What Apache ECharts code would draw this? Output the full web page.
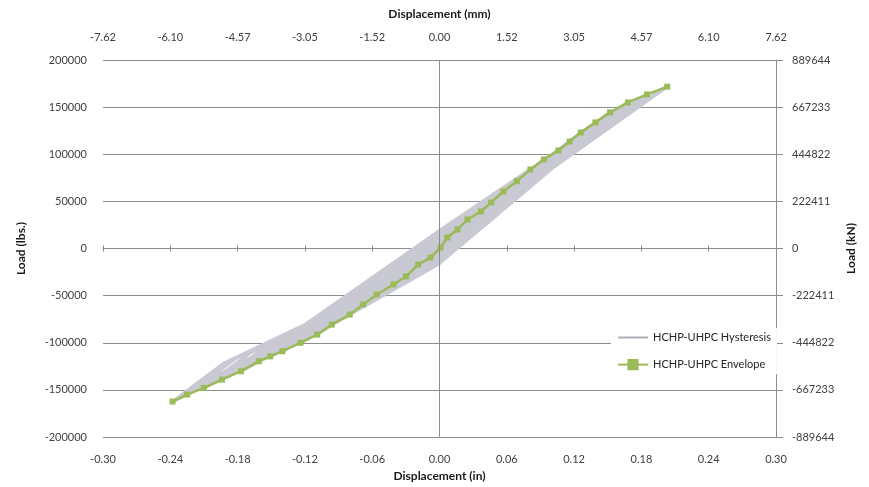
<!DOCTYPE html>
<html>
<head>
<meta charset="utf-8">
<script src="https://cdn.jsdelivr.net/npm/echarts@6/dist/echarts.min.js"></script>
<style>
html,body{margin:0;padding:0;background:#fff;}
#chart{width:869px;height:487px;}
</style>
</head>
<body>
<div id="chart"></div>
<script>
// ---- Data ----
// Envelope: peak displacement (in) and peak load (lbs.)
const envDisp = [-0.238,-0.225,-0.210,-0.194,-0.177,-0.161,-0.151,-0.140,-0.124,-0.109,-0.096,-0.080,-0.068,-0.056,-0.041,-0.030,-0.019,-0.008,
                 0.001,0.007,0.016,0.025,0.037,0.046,0.057,0.069,0.081,0.093,0.106,0.116,0.126,0.139,0.152,0.168,0.185,0.203];
const envLoad = [-162400,-155000,-147900,-139100,-130200,-119600,-114500,-109000,-100100,-91300,-80700,-70100,-59400,-48800,-38200,-29700,-17000,-9600,
                 1100,11700,20200,30800,39300,48800,60500,71400,83900,94500,104000,113500,123100,133800,144400,155000,163500,171700];

// Hysteresis path (in, lbs.) – cycle by cycle
const hystDisp = [
  0,-0.008,
  -0.004,0,0.0047,0.007,0.0035,0,-0.0087,-0.0146,-0.019,
  -0.0071,0,0.0081,0.016,0.006,0,-0.0186,-0.0269,-0.030,
  -0.0158,0,0.0141,0.025,0.0109,0,-0.0251,-0.0341,-0.041,
  -0.0208,0,0.0195,0.037,0.0154,0,-0.0309,-0.0453,-0.056,
  -0.0254,0,0.0247,0.046,0.0196,0,-0.0368,-0.058,-0.068,
  -0.030,0,0.0308,0.057,0.0245,0,-0.0453,-0.0702,-0.080,
  -0.0369,0,0.0277,0.057,0.0259,0,-0.0411,-0.0652,-0.080,
  -0.0369,0,0.0394,0.069,0.0319,0,-0.054,-0.0809,-0.096,
  -0.044,0,0.0356,0.069,0.0336,0,-0.049,-0.0751,-0.096,
  -0.044,0,0.0483,0.081,0.0395,0,-0.0632,-0.0919,-0.109,
  -0.0515,0,0.0439,0.081,0.0415,0,-0.0574,-0.085,-0.109,
  -0.0515,0,0.0544,0.093,0.0445,0,-0.0706,-0.1029,-0.124,
  -0.0574,0,0.0495,0.093,0.0467,0,-0.064,-0.0952,-0.124,
  -0.0574,0,0.0599,0.106,0.049,0,-0.077,-0.1143,-0.140,
  -0.0625,0,0.0545,0.106,0.0514,0,-0.0698,-0.1058,-0.140,
  -0.0625,0,0.0654,0.116,0.0535,0,-0.0815,-0.1208,-0.151,
  -0.0656,0,0.0594,0.116,0.0561,0,-0.0735,-0.1116,-0.151,
  -0.0656,0,0.0711,0.126,0.0582,0,-0.0856,-0.1271,-0.161,
  -0.0684,0,0.0647,0.126,0.0611,0,-0.077,-0.117,-0.161,
  -0.0684,0,0.078,0.139,0.064,0,-0.0931,-0.1416,-0.177,
  -0.0744,0,0.071,0.139,0.0671,0,-0.0837,-0.1307,-0.177,
  -0.0744,0,0.0849,0.152,0.0698,0,-0.0996,-0.1551,-0.194,
  -0.0794,0,0.0774,0.152,0.0732,0,-0.0895,-0.1434,-0.194,
  -0.0794,0,0.0912,0.168,0.0749,0,-0.1075,-0.1691,-0.210,
  -0.0858,0,0.083,0.168,0.0785,0,-0.0966,-0.1564,-0.210,
  -0.0858,0,0.096,0.185,0.0789,0,-0.114,-0.1811,-0.225,
  -0.0912,0,0.0875,0.185,0.0827,0,-0.1026,-0.1677,-0.225,
  -0.0912,0,0.1012,0.203,0.0832,0,-0.1206,-0.1923,-0.238,
  -0.0966,0,0.0922,0.203,0.0872,0,-0.1086,-0.1783,-0.238,
  -0.0966,0,0.012
];
const hystLoad = [
  0,-9600,
  -4800,-1100,5850,11700,5850,1300,-8500,-12750,-17000,
  -8500,-1800,10100,20200,10100,2200,-14850,-22275,-29700,
  -14850,-2800,15400,30800,15400,3400,-19100,-28650,-38200,
  -19100,-3500,19650,39300,19650,4400,-24400,-36600,-48800,
  -24400,-4400,24400,48800,24400,5400,-29700,-44550,-59400,
  -29700,-5500,30250,60500,30250,6700,-35050,-52575,-70100,
  -35050,0,30250,60500,30250,3350,-35050,-52575,-70100,
  -35050,-6400,35700,71400,35700,7900,-40350,-60525,-80700,
  -40350,0,35700,71400,35700,3950,-40350,-60525,-80700,
  -40350,-7600,41950,83900,41950,9300,-45650,-68475,-91300,
  -45650,0,41950,83900,41950,4650,-45650,-68475,-91300,
  -45650,-8500,47250,94500,47250,10500,-50050,-75075,-100100,
  -50050,0,47250,94500,47250,5250,-50050,-75075,-100100,
  -50050,-9400,52000,104000,52000,11500,-54500,-81750,-109000,
  -54500,0,52000,104000,52000,5750,-54500,-81750,-109000,
  -54500,-10200,56750,113500,56750,12600,-57250,-85875,-114500,
  -57250,0,56750,113500,56750,6300,-57250,-85875,-114500,
  -57250,-11100,61550,123100,61550,13600,-59800,-89700,-119600,
  -59800,0,61550,123100,61550,6800,-59800,-89700,-119600,
  -59800,-12100,66900,133800,66900,14800,-65100,-97650,-130200,
  -65100,0,66900,133800,66900,7400,-65100,-97650,-130200,
  -65100,-13000,72200,144400,72200,16000,-69550,-104325,-139100,
  -69550,0,72200,144400,72200,8000,-69550,-104325,-139100,
  -69550,-14000,77500,155000,77500,17200,-73950,-110925,-147900,
  -73950,0,77500,155000,77500,8600,-73950,-110925,-147900,
  -73950,-14800,81750,163500,81750,18100,-77500,-116250,-155000,
  -77500,0,81750,163500,81750,9050,-77500,-116250,-155000,
  -77500,-15500,85850,171700,85850,19000,-81200,-121800,-162400,
  -81200,0,85850,171700,85850,9500,-81200,-121800,-162400,
  -81200,-16000,0
];

// Axis ranges / tick steps
const inRange = [-0.30, 0.30], inStep = 0.06;
const mmRange = [-7.62, 7.62], mmStep = 1.524;
const lbRange = [-200000, 200000], lbStep = 50000;
const knRange = [-889644, 889644], knStep = 222411;

const seriesNames = ['HCHP-UHPC Hysteresis', 'HCHP-UHPC Envelope'];

// ---- Chart ----
const FONT = 'Lato, "Liberation Sans", sans-serif';
const GRID = '#8c8c8c';
const LABEL = '#404040';
const HYST = '#c9c9d3';
function fix2(v){ return Math.abs(v) < 1e-9 ? '0.00' : v.toFixed(2); }

const chart = echarts.init(document.getElementById('chart'), null, {renderer:'canvas'});
const option = {
  animation: false,
  backgroundColor: '#fff',
  textStyle: {fontFamily: FONT},
  grid: {left: 103, right: 93, top: 60, bottom: 50, containLabel: false},
  legend: {
    orient: 'vertical', left: 611, top: 328,
    itemWidth: 30, itemHeight: 14, itemGap: 16,
    padding: [4, 6, 4, 6],
    backgroundColor: '#ffffff',
    symbolKeepAspect: true,
    textStyle: {fontFamily: FONT, fontSize: 11, color: '#262626'},
    data: [
      {name: seriesNames[0], icon: 'path://M0,0 L30,0 L30,2 L0,2 Z', itemStyle: {color: '#b0b0b8'}},
      {name: seriesNames[1]}
    ]
  },
  xAxis: [
    { // top, millimetres
      type: 'value', position: 'top', min: mmRange[0], max: mmRange[1], interval: mmStep,
      axisLine: {show: false, onZero: false}, axisTick: {show: false}, splitLine: {show: false},
      axisLabel: {formatter: fix2, color: LABEL, fontSize: 11, fontFamily: FONT, margin: 17},
      name: 'Displacement (mm)', nameLocation: 'middle', nameGap: 40,
      nameTextStyle: {fontFamily: FONT, fontWeight: 'bold', fontSize: 12, color: '#1a1a1a'}
    },
    { // bottom, inches (labels only)
      type: 'value', position: 'bottom', min: inRange[0], max: inRange[1], interval: inStep,
      axisLine: {show: false, onZero: false}, axisTick: {show: false}, splitLine: {show: false},
      axisLabel: {formatter: fix2, color: LABEL, fontSize: 11, fontFamily: FONT, margin: 17},
      name: 'Displacement (in)', nameLocation: 'middle', nameGap: 32,
      nameTextStyle: {fontFamily: FONT, fontWeight: 'bold', fontSize: 12, color: '#1a1a1a'}
    },
    { // axis line through zero load with tick marks
      type: 'value', position: 'bottom', min: inRange[0], max: inRange[1], interval: inStep,
      axisLine: {show: true, onZero: true, lineStyle: {color: GRID, width: 1}},
      axisTick: {show: true, inside: false, length: 3, lineStyle: {color: GRID}},
      axisLabel: {show: false}, splitLine: {show: false}
    },
    {
      type: 'value', position: 'bottom', min: inRange[0], max: inRange[1], interval: inStep,
      axisLine: {show: false, onZero: true},
      axisTick: {show: true, inside: true, length: 3, lineStyle: {color: GRID}},
      axisLabel: {show: false}, splitLine: {show: false}
    }
  ],
  yAxis: [
    {
      type: 'value', position: 'left', min: lbRange[0], max: lbRange[1], interval: lbStep,
      axisLine: {show: false, onZero: false}, axisTick: {show: false},
      splitLine: {show: true, lineStyle: {color: GRID, width: 1}},
      axisLabel: {color: LABEL, fontSize: 11, fontFamily: FONT, margin: 16,
                  formatter: v => String(Math.round(v))},
      name: 'Load (lbs.)', nameLocation: 'middle', nameGap: 76, nameRotate: 90,
      nameTextStyle: {fontFamily: FONT, fontWeight: 'bold', fontSize: 12, color: '#1a1a1a'}
    },
    {
      type: 'value', position: 'right', min: knRange[0], max: knRange[1], interval: knStep,
      axisLine: {show: true, onZero: false, lineStyle: {color: GRID, width: 1}},
      axisTick: {show: true, inside: false, length: 7, lineStyle: {color: GRID}},
      splitLine: {show: false},
      axisLabel: {color: LABEL, fontSize: 11, fontFamily: FONT, margin: 16,
                  formatter: v => String(Math.round(v))},
      name: 'Load (kN)', nameLocation: 'middle', nameGap: 68, nameRotate: 90,
      nameTextStyle: {fontFamily: FONT, fontWeight: 'bold', fontSize: 12, color: '#1a1a1a'}
    }
  ],
  series: [
    {
      name: seriesNames[0], type: 'line', xAxisIndex: 1, yAxisIndex: 0,
      data: hystDisp.map((d, i) => [d, hystLoad[i]]),
      showSymbol: false, symbol: 'none',
      lineStyle: {color: HYST, width: 3.4, join: 'round'},
      itemStyle: {color: HYST},
      z: 2,
      markLine: {
        silent: true, symbol: 'none', label: {show: false},
        lineStyle: {color: GRID, width: 1, type: 'solid'},
        data: [{xAxis: 0}]
      }
    },
    {
      name: seriesNames[1], type: 'line', xAxisIndex: 1, yAxisIndex: 0,
      data: envDisp.map((d, i) => [d, envLoad[i]]),
      symbol: 'rect', symbolSize: 6,
      lineStyle: {color: '#9bbb59', width: 2.5},
      itemStyle: {color: '#9bbb59'},
      z: 3
    }
  ]
};
chart.setOption(option);
</script>
</body>
</html>
